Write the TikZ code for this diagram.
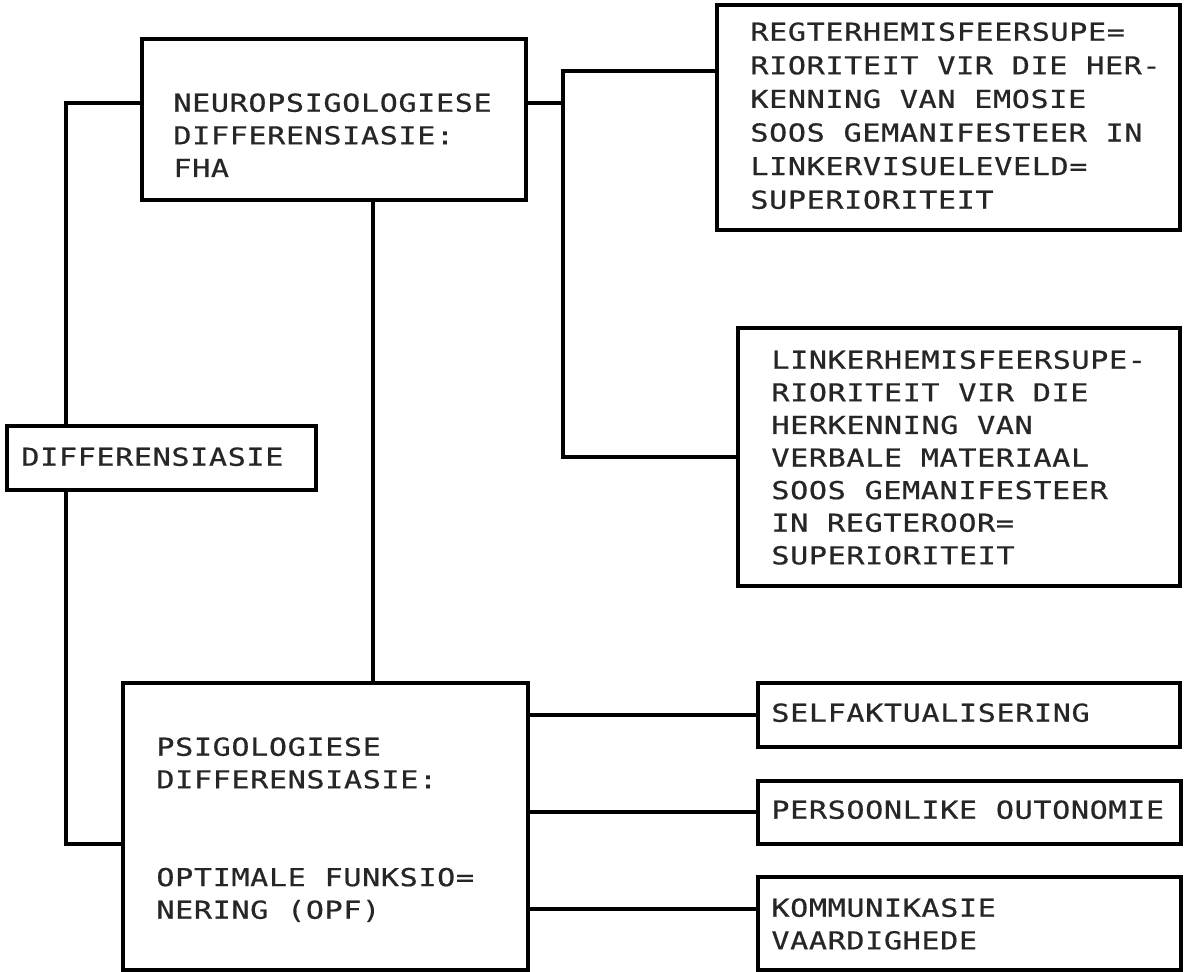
\documentclass[tikz,border=0pt]{standalone}
\usepackage{fontspec}
\newfontfamily\plotfont[FakeStretch=1.22,LetterSpace=2.5,FakeBold=0.6]{DejaVu Sans Mono}
\begin{document}
\begin{tikzpicture}[x=0.5pt,y=-0.5pt,
  box/.style={draw,line width=1.6pt,outer sep=0pt,inner sep=0pt,anchor=north west},
  txt/.style={anchor=north west,inner sep=0pt,align=left,text=black!85,
    font=\plotfont\fontsize{12.35pt}{16.3pt}\selectfont},
  wire/.style={line width=1.6pt}]
 \useasboundingbox (0,0) rectangle (1188,972);
 % boxes
 \node[box,minimum width=192pt,minimum height=80.5pt] (neuro) at (142,39) {};
 \node[box,minimum width=231.5pt,minimum height=112.5pt] (regter) at (717,5) {};
 \node[box,minimum width=221pt,minimum height=129pt] (linker) at (738,328) {};
 \node[box,minimum width=154.5pt,minimum height=32pt] (diff) at (7,426) {};
 \node[box,minimum width=202.5pt,minimum height=143.5pt] (psig) at (123,683) {};
 \node[box,minimum width=211pt,minimum height=32pt] (self) at (758,683) {};
 \node[box,minimum width=211.5pt,minimum height=31.5pt] (pers) at (758,781) {};
 \node[box,minimum width=211.5pt,minimum height=46.5pt] (komm) at (758,877) {};
 % texts
 \node[txt] (neurotxt) at (173,93) {NEUROPSIGOLOGIESE\\DIFFERENSIASIE:\\FHA};
 \node[txt,font=\plotfont\fontsize{12.35pt}{16.8pt}\selectfont] (regtertxt) at (750,22)
  {REGTERHEMISFEERSUPE=\\RIORITEIT VIR DIE HER-\\KENNING VAN EMOSIE\\SOOS GEMANIFESTEER IN\\LINKERVISUELEVELD=\\SUPERIORITEIT};
 \node[txt] (linkertxt) at (771,350)
  {LINKERHEMISFEERSUPE-\\RIORITEIT VIR DIE\\HERKENNING VAN\\VERBALE MATERIAAL\\SOOS GEMANIFESTEER\\IN REGTEROOR=\\SUPERIORITEIT};
 \node[txt] (difftxt) at (21,447) {DIFFERENSIASIE};
 \node[txt] (psigtxt) at (156,737)
  {PSIGOLOGIESE\\DIFFERENSIASIE:\\[32.6pt]OPTIMALE FUNKSIO=\\NERING (OPF)};
 \node[txt] (selftxt) at (771,703) {SELFAKTUALISERING};
 \node[txt] (perstxt) at (771,800) {PERSOONLIKE OUTONOMIE};
 \node[txt] (kommtxt) at (771,898) {KOMMUNIKASIE\\VAARDIGHEDE};
 % connectors
 \coordinate (ltop) at (66,103);
 \coordinate (lbot) at (66,844);
 \coordinate (stem) at (373,0);
 \coordinate (split) at (563,103);
 \coordinate (rtop) at (563,71);
 \coordinate (rbot) at (563,457);
 \draw[wire] (ltop -| neuro.west) -- (ltop) -- (ltop |- diff.north);
 \draw[wire] (lbot |- diff.south) -- (lbot) -- (lbot -| psig.west);
 \draw[wire] (stem |- neuro.south) -- (stem |- psig.north);
 \draw[wire] (split -| neuro.east) -- (split);
 \draw[wire] (rtop -| regter.west) -- (rtop) -- (rbot) -- (rbot -| linker.west);
 \foreach \b/\y in {self/715,pers/812,komm/909}
  \draw[wire] (psig.east |- 0,\y) -- (\b.west |- 0,\y);
\end{tikzpicture}
\end{document}
